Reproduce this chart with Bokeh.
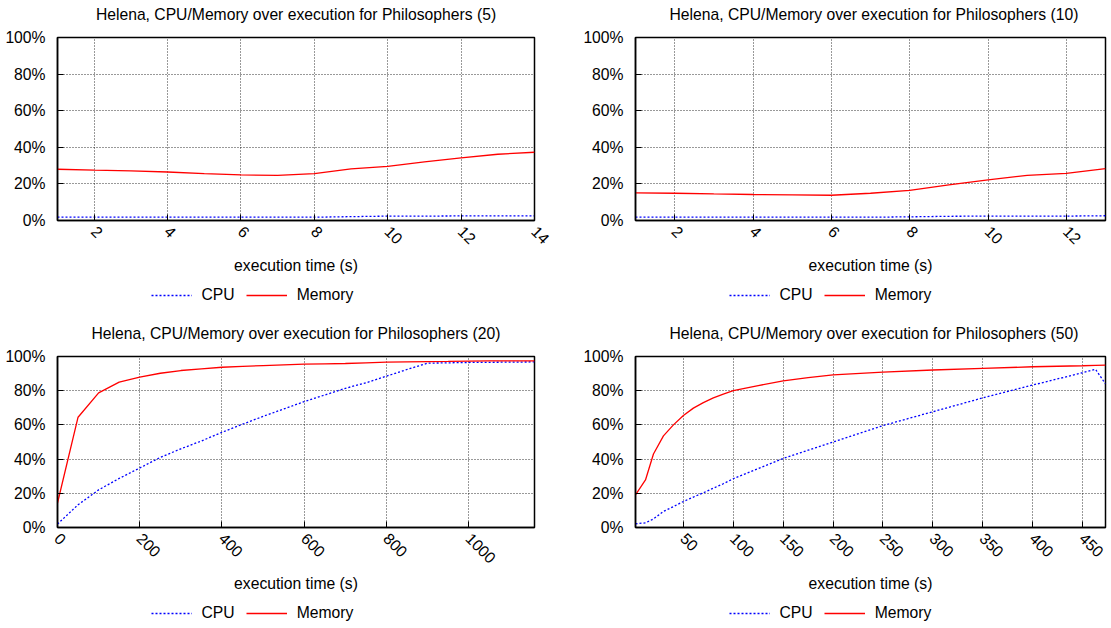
import math
from bokeh.plotting import figure
from bokeh.layouts import row, column
from bokeh.models import Range1d, FixedTicker, PrintfTickFormatter, Legend, LegendItem, Label
from bokeh.embed import file_html
from bokeh.resources import INLINE

# ---------------- data ----------------
titles = [
    "Helena, CPU/Memory over execution for Philosophers (5)",
    "Helena, CPU/Memory over execution for Philosophers (10)",
    "Helena, CPU/Memory over execution for Philosophers (20)",
    "Helena, CPU/Memory over execution for Philosophers (50)",
]
x_label = "execution time (s)"
series_names = ["CPU", "Memory"]
y_ticks = [0, 20, 40, 60, 80, 100]

t5 = [1, 2, 3, 4, 5, 6, 7, 8, 9, 10, 11, 12, 13, 14]
cpu5 = [1.8, 1.8, 1.8, 1.8, 1.8, 1.8, 1.8, 1.8, 2.1, 2.4, 2.4, 2.5, 2.5, 2.5]
mem5 = [28.0, 27.5, 27.1, 26.5, 25.6, 24.9, 24.7, 25.6, 28.2, 29.6, 32.0, 34.2, 36.2, 37.3]
xt5 = [2, 4, 6, 8, 10, 12, 14]

t10 = [1, 2, 3, 4, 5, 6, 7, 8, 9, 10, 11, 12, 13]
cpu10 = [1.8, 1.8, 1.8, 1.8, 1.8, 1.8, 1.8, 2.0, 2.3, 2.4, 2.4, 2.4, 2.6]
mem10 = [15.1, 14.9, 14.5, 14.2, 14.0, 13.8, 14.9, 16.5, 19.5, 22.2, 24.7, 25.8, 28.3]
xt10 = [2, 4, 6, 8, 10, 12]

t20 = [0, 50, 100, 150, 200, 250, 300, 350, 400, 450, 500, 550, 600, 650,
       700, 750, 800, 850, 900, 950, 1000, 1050, 1100, 1150, 1160]
cpu20 = [2.0, 13.3, 22.0, 28.7, 34.8, 41.0, 46.0, 50.6, 55.7, 60.4, 65.0, 69.3,
         73.6, 77.5, 81.4, 84.6, 88.5, 92.4, 96.1, 96.3, 96.5, 96.6, 96.7, 96.8, 96.8]
mem20 = [14.3, 64.5, 78.7, 85.0, 87.9, 90.2, 91.8, 92.8, 93.7, 94.2, 94.7, 95.1,
         95.5, 95.7, 95.9, 96.3, 96.7, 96.9, 97.0, 97.1, 97.3, 97.4, 97.4, 97.5, 97.5]
xt20 = [0, 200, 400, 600, 800, 1000]

t50 = [2, 12, 20, 30, 40, 50, 60, 70, 80, 90, 100, 125, 150, 175, 200,
       250, 300, 350, 400, 450, 463, 473]
cpu50 = [2.2, 2.7, 5.0, 9.4, 12.2, 15.2, 17.8, 20.3, 23.0, 25.6, 28.5, 34.4,
         40.4, 45.2, 50.0, 59.6, 67.7, 75.8, 83.3, 90.5, 92.5, 84.0]
mem50 = [19.0, 27.8, 43.0, 53.6, 60.0, 65.5, 69.8, 73.0, 75.8, 78.0, 80.0, 83.0,
         85.8, 87.6, 89.2, 90.9, 92.1, 93.0, 94.0, 94.6, 94.8, 94.9]
xt50 = [50, 100, 150, 200, 250, 300, 350, 400, 450]

# ---------------- style ----------------
FONT = "Liberation Sans"
FS = "15.7px"
CPU_COLOR = "#0000ff"
MEM_COLOR = "#ff0000"
CPU_STYLE = dict(line_color=CPU_COLOR, line_width=1.3, line_dash="2 2")
MEM_STYLE = dict(line_color=MEM_COLOR, line_width=1.3)


def blank(w, h, bl, br, xr=(0, 1)):
    s = figure(width=w, height=h, output_backend="svg", toolbar_location=None,
               x_range=Range1d(*xr), y_range=Range1d(*xr),
               min_border_left=bl, min_border_right=br,
               min_border_top=0, min_border_bottom=0,
               background_fill_color="white", border_fill_color="white")
    s.axis.visible = False
    s.grid.visible = False
    s.outline_line_color = None
    return s


def title_strip(text, w, h, bl, br):
    """Strip above a chart that holds its title, centred on the chart's frame."""
    s = blank(w, h, bl, br)
    fw = w - bl - br
    s.add_layout(Label(x=fw / 2.0, y=h / 2.0, x_units="screen", y_units="screen",
                       text=text, text_align="center", text_baseline="middle",
                       text_font=FONT, text_font_size=FS, text_color="black"))
    return s


def make(t, cpu, mem, xr, xticks, w, h, bl, br, bt, bb, ax_standoff):
    p = figure(width=w, height=h, output_backend="svg", toolbar_location=None,
               title=None, x_range=Range1d(*xr), y_range=Range1d(0, 100),
               min_border_left=bl, min_border_right=br,
               min_border_top=bt, min_border_bottom=bb,
               background_fill_color="white", border_fill_color="white")

    p.line(t, cpu, **CPU_STYLE)
    p.line(t, mem, **MEM_STYLE)

    p.outline_line_color = "black"
    p.outline_line_width = 1.5
    p.outline_line_alpha = 1.0

    for g, tk in ((p.xgrid, xticks), (p.ygrid, y_ticks)):
        g.ticker = FixedTicker(ticks=tk)
        g.grid_line_color = "black"
        g.grid_line_alpha = 0.8
        g.grid_line_dash = "1 2"
        g.grid_line_width = 1

    p.xaxis.ticker = FixedTicker(ticks=xticks)
    p.yaxis.ticker = FixedTicker(ticks=y_ticks)
    p.yaxis.formatter = PrintfTickFormatter(format="%d%%")
    p.xaxis.major_label_orientation = -math.pi / 4
    for ax in (p.xaxis[0], p.yaxis[0]):
        ax.axis_line_color = "black"
        ax.axis_line_width = 1.5
        ax.major_tick_in = 6
        ax.major_tick_out = 0
        ax.major_tick_line_color = "black"
        ax.minor_tick_line_color = None
        ax.major_label_text_font = FONT
        ax.major_label_text_font_size = FS
        ax.major_label_text_color = "black"
    p.yaxis.major_label_standoff = 12
    p.xaxis.major_label_standoff = 8
    p.xaxis.axis_label = x_label
    p.xaxis.axis_label_text_font = FONT
    p.xaxis.axis_label_text_font_size = FS
    p.xaxis.axis_label_text_font_style = "normal"
    p.xaxis.axis_label_text_color = "black"
    p.xaxis.axis_label_standoff = ax_standoff
    return p


def key(t, cpu, mem, w, h, bl, br, y_off):
    """Strip under a chart holding its key. Its ranges lie away from the
    data, so only the key's samples show."""
    k = blank(w, h, bl, br, xr=(-3, -2))
    r_cpu = k.line(t, cpu, **CPU_STYLE)
    r_mem = k.line(t, mem, **MEM_STYLE)
    fw = w - bl - br
    legend = Legend(items=[LegendItem(label=series_names[0], renderers=[r_cpu]),
                           LegendItem(label=series_names[1], renderers=[r_mem])],
                    orientation="horizontal", location=(fw / 2.0 - 145, y_off),
                    border_line_color=None, background_fill_alpha=0,
                    margin=0, padding=0, spacing=11,
                    glyph_width=41, glyph_height=16, label_height=16,
                    label_standoff=10, label_text_font=FONT,
                    label_text_font_size=FS, label_text_color="black")
    k.add_layout(legend)
    return k


# geometry: left column 580 px wide (frame 57..534), right column 530 px (frame 628..1105)
s1 = title_strip(titles[0], 580, 28, 57, 46)
s2 = title_strip(titles[1], 530, 28, 48, 5)
s3 = title_strip(titles[2], 580, 28, 57, 46)
s4 = title_strip(titles[3], 530, 28, 48, 5)

p1 = make(t5, cpu5, mem5, (1, 14), xt5, 580, 252, 57, 46, 9, 60, 5)
p2 = make(t10, cpu10, mem10, (1, 13), xt10, 530, 252, 48, 5, 9, 60, 5)
p3 = make(t20, cpu20, mem20, (0, 1160), xt20, 580, 250, 57, 46, 9, 70, 3)
p4 = make(t50, cpu50, mem50, (2, 473), xt50, 530, 250, 48, 5, 9, 70, 10)

k1 = key(t5, cpu5, mem5, 580, 39, 57, 46, 15)
k2 = key(t10, cpu10, mem10, 530, 39, 48, 5, 15)
k3 = key(t20, cpu20, mem20, 580, 30, 57, 46, 5)
k4 = key(t50, cpu50, mem50, 530, 30, 48, 5, 5)

layout = column(row(column(s1, p1, k1), column(s2, p2, k2)),
                row(column(s3, p3, k3), column(s4, p4, k4)))
open("out.html", "w").write(file_html(layout, INLINE))
